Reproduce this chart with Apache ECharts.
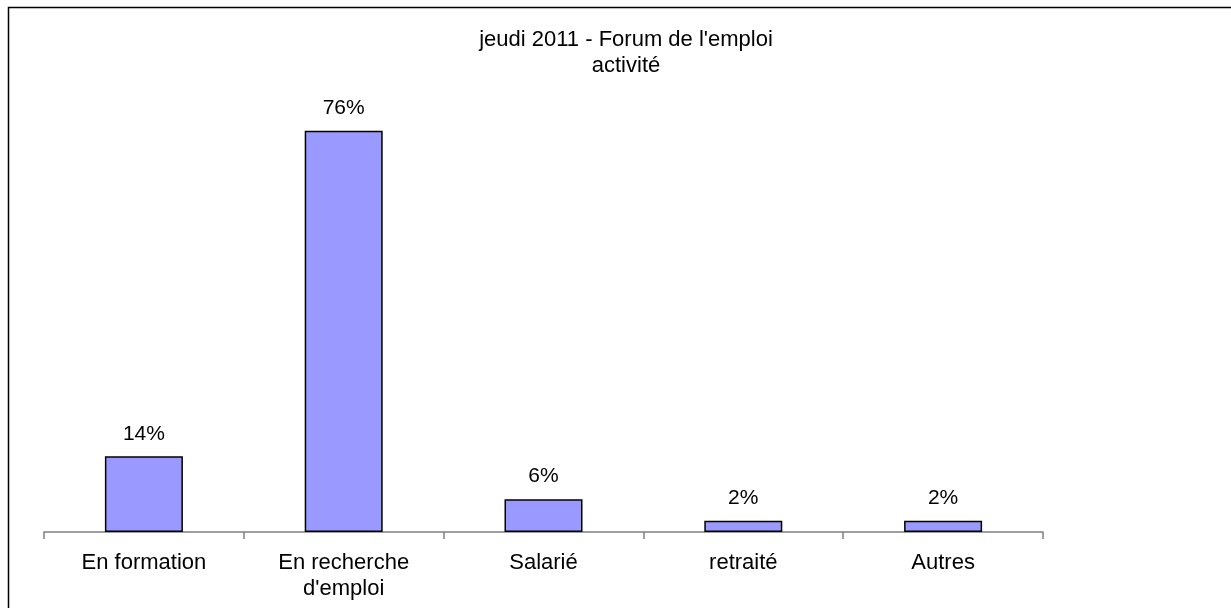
<!DOCTYPE html>
<html>
<head>
<meta charset="utf-8">
<script src="https://cdn.jsdelivr.net/npm/echarts@6/dist/echarts.min.js"></script>
<style>
html,body{margin:0;padding:0;background:#fff;}
#chart{width:1231px;height:608px;}
</style>
</head>
<body>
<div id="chart"></div>
<script>
const categories = ['En formation', "En recherche\nd'emploi", 'Salarié', 'retraité', 'Autres'];
const values = [14.3, 75.7, 6.2, 2.1, 2.1];
const titleLines = ["jeudi 2011 - Forum de l'emploi", 'activité'];

const FONT = '"Liberation Sans", Arial, sans-serif';
const chart = echarts.init(document.getElementById('chart'), null, {renderer: 'canvas'});
chart.setOption({
  backgroundColor: '#fff',
  animation: false,
  graphic: [
    {type: 'rect', silent: true, shape: {x: 8.5, y: 7.5, width: 1400, height: 800},
     style: {fill: 'none', stroke: '#000', lineWidth: 1.5}},
    {type: 'text', x: 626, y: 39.5, style: {text: titleLines[0], font: '22px ' + FONT, fill: '#000', textAlign: 'center', textVerticalAlign: 'middle'}},
    {type: 'text', x: 626, y: 66, style: {text: titleLines[1], font: '22px ' + FONT, fill: '#000', textAlign: 'center', textVerticalAlign: 'middle'}}
  ],
  grid: {left: 44, right: 188, top: 108, bottom: 76, containLabel: false},
  xAxis: {
    type: 'category',
    data: categories,
    boundaryGap: true,
    axisLine: {lineStyle: {color: '#808080', width: 1.5}},
    axisTick: {show: true, length: 7, lineStyle: {color: '#808080', width: 1.5}},
    axisLabel: {color: '#000', fontSize: 22, fontFamily: FONT, margin: 18, lineHeight: 26, interval: 0}
  },
  yAxis: {
    type: 'value', min: 0, max: 80, show: false,
    splitLine: {show: false}
  },
  series: [{
    type: 'bar',
    data: values,
    barWidth: 78,
    itemStyle: {color: '#9999FF', borderColor: '#000', borderWidth: 1.5},
    label: {
      show: true, position: 'top', distance: 12,
      color: '#000', fontSize: 21, fontFamily: FONT,
      formatter: p => Math.round(p.value) + '%'
    }
  }]
});
</script>
</body>
</html>
